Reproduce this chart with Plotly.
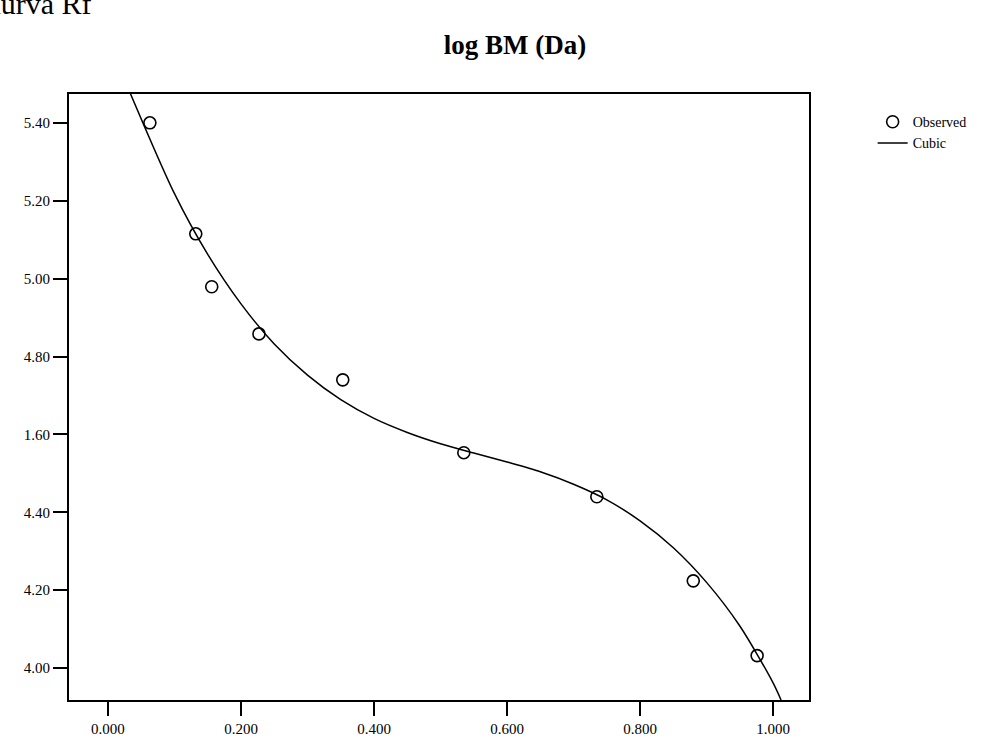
import plotly.graph_objects as go

# Observed points (Rf vs log BM)
obs_x = [0.063, 0.132, 0.156, 0.227, 0.353, 0.535, 0.735, 0.880, 0.976]
obs_y = [5.400, 5.115, 4.979, 4.858, 4.740, 4.553, 4.440, 4.224, 4.032]

# Cubic curve
cub_x = [0.033, 0.10, 0.15, 0.20, 0.25, 0.30, 0.35, 0.40, 0.45, 0.50,
         0.55, 0.60, 0.65, 0.70, 0.75, 0.80, 0.85, 0.90, 0.95, 1.00, 1.012]
cub_y = [5.478, 5.218, 5.062, 4.935, 4.832, 4.752, 4.689, 4.641, 4.605, 4.576,
         4.552, 4.529, 4.504, 4.472, 4.432, 4.378, 4.309, 4.220, 4.108, 3.962, 3.918]

x_ticks = [0.0, 0.2, 0.4, 0.6, 0.8, 1.0]
x_labels = ["0.000", "0.200", "0.400", "0.600", "0.800", "1.000"]
y_ticks = [4.0, 4.2, 4.4, 4.6, 4.8, 5.0, 5.2, 5.4]
y_labels = ["4.00", "4.20", "4.40", "1.60", "4.80", "5.00", "5.20", "5.40"]

FONT = "Liberation Serif"

fig = go.Figure()
fig.add_trace(go.Scatter(
    x=obs_x, y=obs_y, mode="markers", name="Observed",
    marker=dict(symbol="circle-open", size=12, color="black",
                line=dict(width=1.6, color="black")),
))
fig.add_trace(go.Scatter(
    x=cub_x, y=cub_y, mode="lines", name="Cubic",
    line=dict(color="black", width=1.5, shape="spline", smoothing=0.8),
))

fig.update_layout(
    width=997, height=742,
    margin=dict(l=69, r=188, t=94, b=42, autoexpand=False),
    paper_bgcolor="white", plot_bgcolor="white",
    font=dict(family=FONT, size=15, color="black"),
    showlegend=True,
    legend=dict(x=1.086, y=0.980, xanchor="left", yanchor="top",
                bgcolor="rgba(0,0,0,0)", font=dict(family=FONT, size=14),
                itemsizing="trace", tracegroupgap=0),
    title=dict(text="<b>log BM (Da)</b>", x=515 / 997, xanchor="center",
               y=1 - 45 / 742, yanchor="middle",
               font=dict(family=FONT, size=27, color="black")),
)

fig.update_xaxes(
    range=[-0.0586, 1.054], tickvals=x_ticks, ticktext=x_labels,
    ticks="outside", ticklen=14, tickwidth=1.5, tickcolor="black",
    showline=True, linecolor="black", linewidth=1.8, mirror=True,
    showgrid=False, zeroline=False, automargin=False,
    tickfont=dict(family=FONT, size=15),
)
fig.update_yaxes(
    range=[3.918, 5.474], tickvals=y_ticks, ticktext=y_labels,
    ticks="outside", ticklen=14, tickwidth=2, tickcolor="black",
    showline=True, linecolor="black", linewidth=1.8, mirror=True,
    showgrid=False, zeroline=False, automargin=False,
    tickfont=dict(family=FONT, size=15),
)

fig.add_annotation(
    text="Kurva Rf", xref="paper", yref="paper",
    x=-0.124, y=1.118, xanchor="left", yanchor="bottom",
    showarrow=False, font=dict(family=FONT, size=30, color="black"),
)

fig.write_html("out.html", config={"displayModeBar": False},
               post_script="document.body.style.margin='0px';")
